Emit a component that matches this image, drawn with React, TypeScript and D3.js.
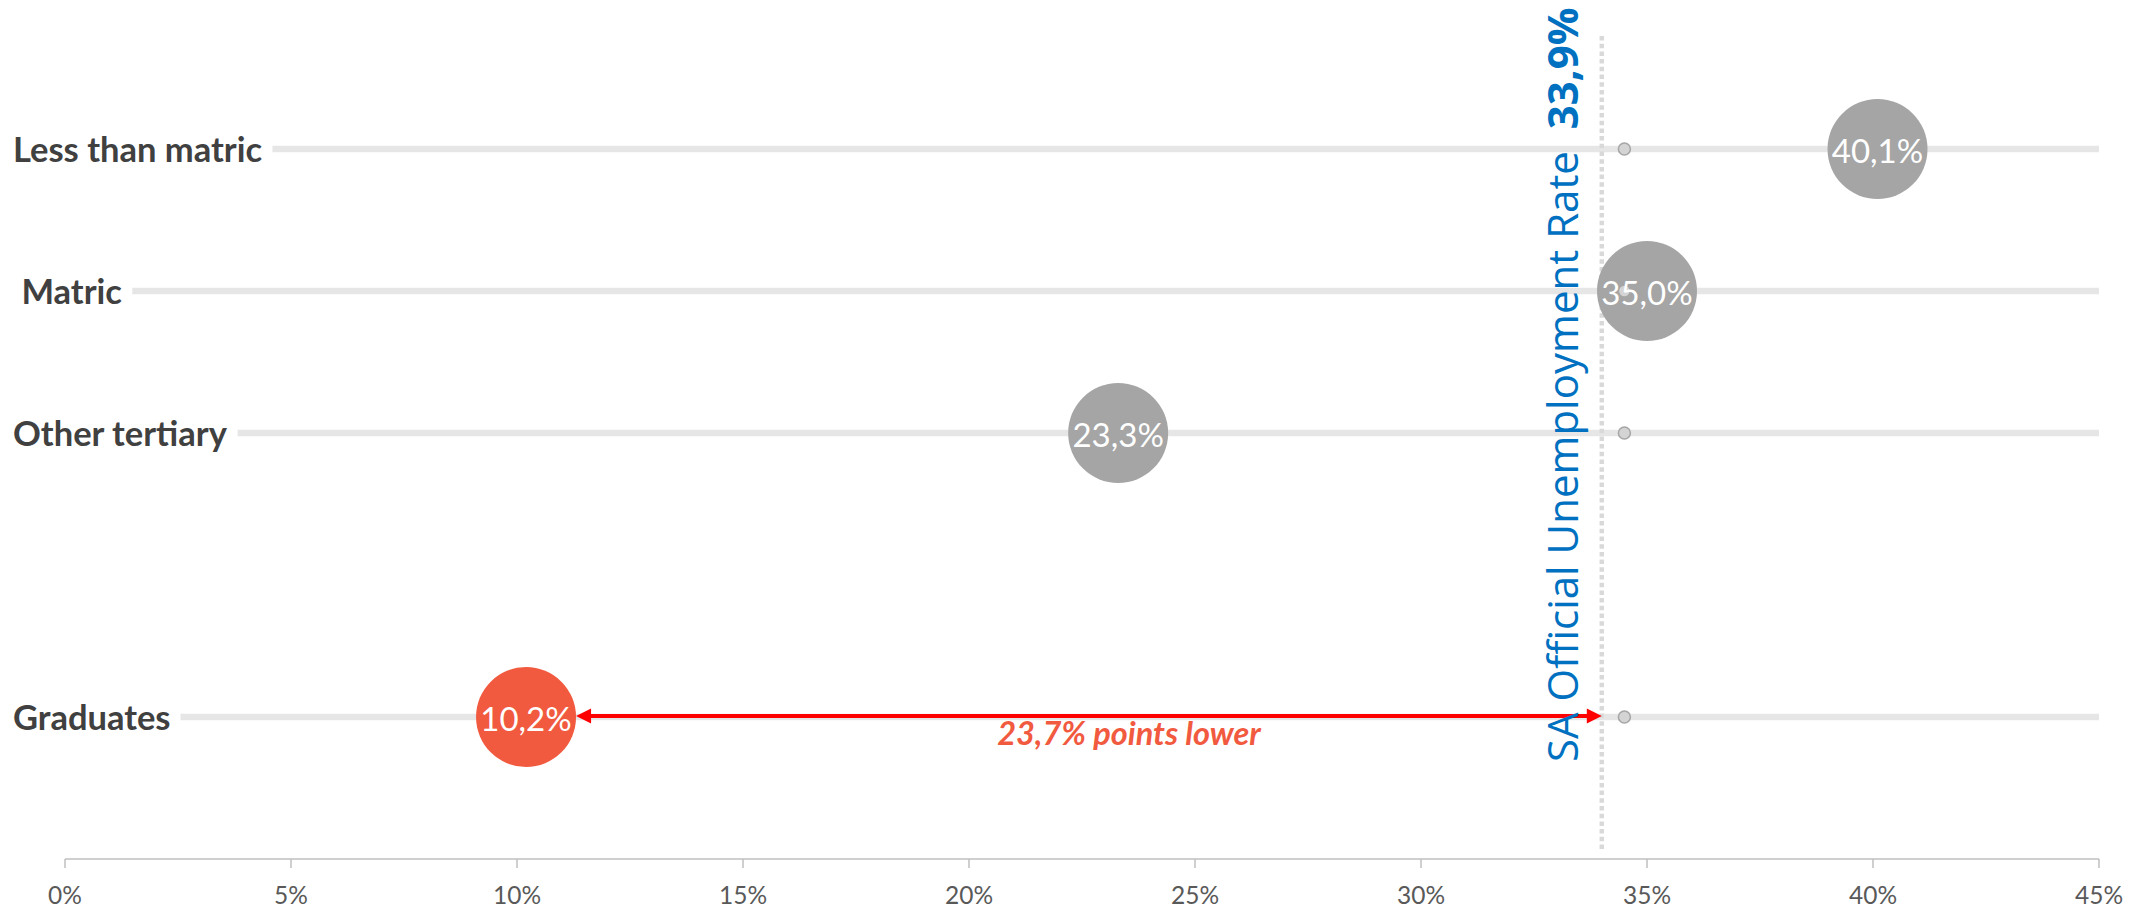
import React, { useEffect, useRef } from "react";
import * as d3 from "d3";

// ---- data ----
const categories = ["Less than matric", "Matric", "Other tertiary", "", "Graduates"];
const rowLabels = ["Less than matric", " Matric", "Other tertiary", "", "Graduates"];
const rates = [40.1, 35.0, 23.3, null, 10.2];
const rateLabels = ["40,1%", "35,0%", "23,3%", "", "10,2%"];
const highlight = [false, false, false, false, true];
const refDots = [34.5, 34.5, 34.5, null, 34.5];
const saRatePos = 34.0; // where the dotted reference line sits on the axis
const saRateLabel = "33,9%";
const saRateTitle = "SA Official Unemployment Rate";
const gapLabel = "23,7% points lower";
const xTicks = [0, 5, 10, 15, 20, 25, 30, 35, 40, 45];
const xDomain = [0, 45];

const W = 2136;
const H = 910;

export default function App() {
  const ref = useRef<SVGSVGElement | null>(null);

  useEffect(() => {
    document.body.style.margin = "0";
    const svg = d3.select(ref.current);
    svg.selectAll("*").remove();

    const x = d3.scaleLinear().domain(xDomain).range([65, 2099]);
    const y = d3.scalePoint<string>().domain(categories.map((c, i) => c || "gap" + i)).range([7, 859]).padding(1);
    const key = (i: number) => categories[i] || "gap" + i;
    const axisY = 859;
    const R = 50;

    const gray = "#a5a5a5";
    const orange = "#f15a3f";

    // row labels + grey lines
    categories.forEach((c, i) => {
      if (!c) return;
      const yy = y(key(i))!;
      const t = svg
        .append("text")
        .attr("x", 13)
        .attr("y", yy + 12.5)
        .style("white-space", "pre")
        .attr("font-family", "Lato, 'Open Sans', sans-serif")
        .attr("font-weight", 700)
        .attr("font-size", 34.5)
        .attr("fill", "#404040")
        .text(rowLabels[i]);
      const bb = (t.node() as SVGTextElement).getBBox();
      svg
        .insert("line", ":first-child")
        .attr("x1", bb.x + bb.width + 10)
        .attr("x2", x(xDomain[1]))
        .attr("y1", yy)
        .attr("y2", yy)
        .attr("stroke", "#e6e6e6")
        .attr("stroke-width", 6.5);
    });

    // dotted reference line
    svg
      .append("line")
      .attr("x1", x(saRatePos))
      .attr("x2", x(saRatePos))
      .attr("y1", 36)
      .attr("y2", 850)
      .attr("stroke", "#d9d9d9")
      .attr("stroke-width", 4.5)
      .attr("stroke-dasharray", "4.5 3.2");

    // axis
    const ax = svg.append("g");
    ax.append("line")
      .attr("x1", x(xDomain[0]))
      .attr("x2", x(xDomain[1]))
      .attr("y1", axisY)
      .attr("y2", axisY)
      .attr("stroke", "#bfbfbf")
      .attr("stroke-width", 1.5);
    xTicks.forEach((t) => {
      ax.append("line")
        .attr("x1", x(t))
        .attr("x2", x(t))
        .attr("y1", axisY)
        .attr("y2", axisY + 9)
        .attr("stroke", "#bfbfbf")
        .attr("stroke-width", 1.5);
      ax.append("text")
        .attr("x", x(t))
        .attr("y", 904)
        .attr("text-anchor", "middle")
        .attr("font-family", "Lato, 'Open Sans', sans-serif")
        .attr("font-size", 24.5)
        .attr("fill", "#595959")
        .text(t + "%");
    });

    // bubbles
    rates.forEach((v, i) => {
      if (v == null) return;
      svg
        .append("circle")
        .attr("cx", x(v))
        .attr("cy", y(key(i))!)
        .attr("r", R)
        .attr("fill", highlight[i] ? orange : gray);
    });

    // small reference dots
    refDots.forEach((v, i) => {
      if (v == null) return;
      svg
        .append("circle")
        .attr("cx", x(v))
        .attr("cy", y(key(i))!)
        .attr("r", 6)
        .attr("fill", "#d4d4d4")
        .attr("stroke", "#a6a6a6")
        .attr("stroke-width", 1.5);
    });

    // bubble labels
    rates.forEach((v, i) => {
      if (v == null) return;
      svg
        .append("text")
        .attr("x", x(v))
        .attr("y", y(key(i))! + 14)
        .attr("text-anchor", "middle")
        .attr("font-family", "Lato, 'Open Sans', sans-serif")
        .attr("font-size", 33)
        .attr("fill", "#ffffff")
        .text(rateLabels[i]);
    });

    // arrow between graduates and SA rate
    const gi = 4;
    const ay = y(key(gi))! - 1;
    const x0 = x(rates[gi] as number) + R;
    const x1 = x(saRatePos);
    const head = 15;
    const hh = 7.5;
    svg
      .append("line")
      .attr("x1", x0 + head - 2)
      .attr("x2", x1 - head + 2)
      .attr("y1", ay)
      .attr("y2", ay)
      .attr("stroke", "#ff0000")
      .attr("stroke-width", 4);
    svg
      .append("path")
      .attr("d", `M${x0},${ay} L${x0 + head},${ay - hh} L${x0 + head},${ay + hh} Z`)
      .attr("fill", "#ff0000");
    svg
      .append("path")
      .attr("d", `M${x1},${ay} L${x1 - head},${ay - hh} L${x1 - head},${ay + hh} Z`)
      .attr("fill", "#ff0000");

    svg
      .append("text")
      .attr("x", 1129)
      .attr("y", ay + 29)
      .attr("text-anchor", "middle")
      .attr("font-family", "Lato, 'Open Sans', sans-serif")
      .attr("font-weight", 700)
      .attr("font-style", "italic")
      .attr("font-size", 32.5)
      .attr("fill", orange)
      .text(gapLabel);

    // rotated SA rate label
    const rt = svg
      .append("text")
      .attr("transform", `translate(${x(saRatePos) - 24},762) rotate(-90)`)
      .style("white-space", "pre")
      .attr("font-family", "'Open Sans', sans-serif")
      .attr("font-size", 42)
      .attr("fill", "#0070c0");
    rt.append("tspan").text(saRateTitle + "  ");
    rt.append("tspan").attr("font-weight", 700).text(saRateLabel);
  }, []);

  return <svg ref={ref} width={W} height={H} style={{ display: "block", background: "#fff" }} />;
}
